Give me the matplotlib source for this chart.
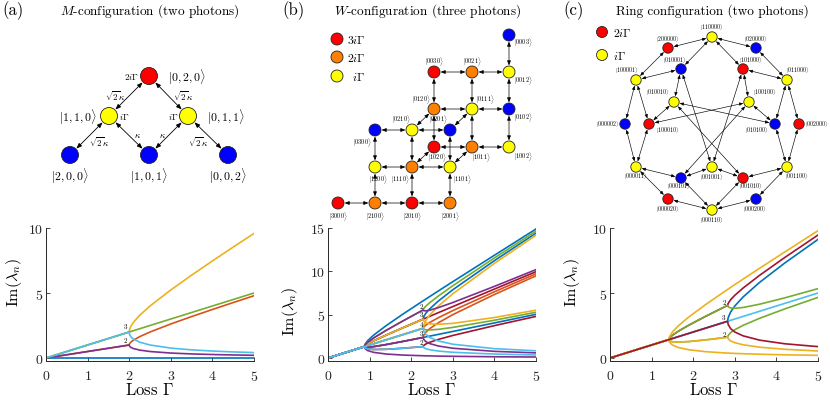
import numpy as np
import matplotlib
matplotlib.use('Agg')
import matplotlib.pyplot as plt
from matplotlib.patches import Circle

plt.rcParams['font.family'] = 'serif'
plt.rcParams['font.serif'] = ['cmr10']
plt.rcParams['mathtext.fontset'] = 'cm'
plt.rcParams['axes.formatter.use_mathtext'] = True

# matlab line colours
blue = '#0072BD'
red = '#D95319'
yellow = '#EDB120'
purple = '#7E2F8E'
green = '#77AC30'
cyan = '#4DBEEE'
darkred = '#A2142F'

# ---------------- data: panel (a) ----------------
gam_a = [0, 2.0, 2.005, 2.02, 2.05, 2.1, 2.25, 2.5, 3.0, 3.5, 4.0, 4.5, 5.0]
a_blue = [0, 0, 0, 0, 0, 0, 0, 0, 0, 0, 0, 0, 0]
a_red = [0, 1.0, 1.073, 1.152, 1.25, 1.37, 1.64, 2.0, 2.618, 3.186, 3.732, 4.266, 4.791]
a_yellow = [0, 2.0, 2.147, 2.304, 2.5, 2.74, 3.281, 4.0, 5.236, 6.372, 7.464, 8.532, 9.582]
a_purple = [0, 1.0, 0.932, 0.868, 0.80, 0.73, 0.61, 0.5, 0.382, 0.314, 0.268, 0.234, 0.209]
a_green = [0, 2.0, 2.005, 2.02, 2.05, 2.1, 2.25, 2.5, 3.0, 3.5, 4.0, 4.5, 5.0]
a_cyan = [0, 2.0, 1.863, 1.736, 1.6, 1.46, 1.219, 1.0, 0.764, 0.628, 0.536, 0.468, 0.418]

# ---------------- data: panel (b) ----------------
gam_b = [0, 0.874, 0.89, 0.95, 1.1, 1.4, 1.8, 2.288, 2.30, 2.35, 2.45, 2.65, 3.0, 4.0, 5.0]
b_p3_0 = [0, 1.311, 1.587, 1.983, 2.652, 3.741, 5.061, 6.603, 6.642, 6.798, 7.107, 7.728, 8.805, 11.856, 14.886]
b_p2_p1 = [0, 1.311, 1.503, 1.797, 2.318, 3.194, 4.274, 5.546, 5.694, 5.975, 6.401, 7.145, 8.340, 11.544, 14.647]
b_p2_m1 = [0, 1.311, 1.503, 1.797, 2.318, 3.194, 4.274, 5.546, 5.462, 5.439, 5.525, 5.809, 6.400, 8.264, 10.201]
b_p1_0 = [0, 1.311, 1.419, 1.611, 1.984, 2.647, 3.487, 4.489, 4.514, 4.616, 4.819, 5.226, 5.935, 7.952, 9.962]
b_p1_p2 = [0, 1.311, 1.419, 1.611, 1.984, 2.647, 3.487, 4.489, 4.746, 5.152, 5.695, 6.562, 7.875, 11.232, 14.408]
b_p1_m2 = [0, 1.311, 1.419, 1.611, 1.984, 2.647, 3.487, 4.489, 4.282, 4.080, 3.943, 3.890, 3.995, 4.672, 5.516]
b_0_p1 = [0, 1.311, 1.335, 1.425, 1.650, 2.100, 2.700, 3.432, 3.566, 3.793, 4.113, 4.643, 5.470, 7.640, 9.723]
b_0_m1 = [0, 1.311, 1.335, 1.425, 1.650, 2.100, 2.700, 3.432, 3.334, 3.257, 3.237, 3.307, 3.530, 4.360, 5.277]
b_0_p3 = [0, 1.311, 1.335, 1.425, 1.650, 2.100, 2.700, 3.432, 3.798, 4.329, 4.989, 5.979, 7.410, 10.920, 14.169]
b_0_m3 = [0, 1.311, 1.335, 1.425, 1.650, 2.100, 2.700, 3.432, 3.102, 2.721, 2.361, 1.971, 1.590, 1.080, 0.831]
b_m1_0 = [0, 1.311, 1.251, 1.239, 1.316, 1.553, 1.913, 2.375, 2.386, 2.434, 2.531, 2.724, 3.065, 4.048, 5.038]
b_m1_p2 = [0, 1.311, 1.251, 1.239, 1.316, 1.553, 1.913, 2.375, 2.618, 2.970, 3.407, 4.060, 5.005, 7.328, 9.484]
b_m1_m2 = [0, 1.311, 1.251, 1.239, 1.316, 1.553, 1.913, 2.375, 2.154, 1.898, 1.655, 1.388, 1.125, 0.768, 0.592]
b_m2_p1 = [0, 1.311, 1.167, 1.053, 0.982, 1.006, 1.126, 1.318, 1.438, 1.611, 1.825, 2.141, 2.600, 3.736, 4.799]
b_m2_m1 = [0, 1.311, 1.167, 1.053, 0.982, 1.006, 1.126, 1.318, 1.206, 1.075, 0.949, 0.805, 0.660, 0.456, 0.353]
b_m3_0 = [0, 1.311, 1.083, 0.867, 0.648, 0.459, 0.339, 0.261, 0.258, 0.252, 0.243, 0.222, 0.195, 0.144, 0.114]

# ---------------- data: panel (c) ----------------
gam_c = [0, 1.414, 1.43, 1.5, 1.65, 1.9, 2.3, 2.828, 2.84, 2.9, 3.0, 3.2, 3.6, 4.2, 5.0]
c_0_0 = [0, 1.414, 1.43, 1.5, 1.65, 1.9, 2.3, 2.828, 2.84, 2.9, 3.0, 3.2, 3.6, 4.2, 5.0]
c_0_p2 = [0, 1.414, 1.43, 1.5, 1.65, 1.9, 2.3, 2.828, 3.096, 3.54, 4.0, 4.696, 5.828, 7.304, 9.124]
c_0_m2 = [0, 1.414, 1.43, 1.5, 1.65, 1.9, 2.3, 2.828, 2.584, 2.26, 2.0, 1.704, 1.372, 1.096, 0.876]
c_p2_0 = [0, 1.414, 1.642, 2.0, 2.5, 3.168, 4.114, 5.278, 5.302, 5.432, 5.646, 6.07, 6.91, 8.154, 9.796]
c_m2_0 = [0, 1.414, 1.218, 1.0, 0.8, 0.632, 0.486, 0.378, 0.378, 0.368, 0.354, 0.33, 0.29, 0.246, 0.204]
c_p1_p1 = [0, 1.414, 1.536, 1.75, 2.075, 2.534, 3.207, 4.053, 4.199, 4.486, 4.823, 5.383, 6.369, 7.729, 9.46]
c_p1_m1 = [0, 1.414, 1.536, 1.75, 2.075, 2.534, 3.207, 4.053, 3.943, 3.846, 3.823, 3.887, 4.141, 4.625, 5.336]
c_m1_p1 = [0, 1.414, 1.324, 1.25, 1.225, 1.266, 1.393, 1.603, 1.737, 1.954, 2.177, 2.513, 3.059, 3.775, 4.664]
c_m1_m1 = [0, 1.414, 1.324, 1.25, 1.225, 1.266, 1.393, 1.603, 1.481, 1.314, 1.177, 1.017, 0.831, 0.671, 0.540]

# ---------------- diagram states ----------------
lossy_a = [1]
lossy_b = [0, 2]
lossy_c = [0, 2, 4]

pos_a = {'020': (149, 77), '110': (109, 117), '011': (188, 117),
         '200': (70, 156), '101': (149, 156), '002': (228, 156)}
lab_a = {'020': (168, 77, 'left'), '110': (97, 117, 'right'), '011': (207, 117, 'left'),
         '200': (70, 176, 'center'), '101': (149, 176, 'center'), '002': (228, 176, 'center')}
loss_txt_a = [(139, 77, 'right', r'$2i\Gamma$'), (119, 117, 'left', r'$i\Gamma$'),
              (178, 117, 'right', r'$i\Gamma$')]
coup_txt_a = [(115, 96, r'$\sqrt{2}\kappa$'), (183, 96, r'$\sqrt{2}\kappa$'),
              (99, 142, r'$\sqrt{2}\kappa$'), (198, 142, r'$\sqrt{2}\kappa$'),
              (137, 136, r'$\kappa$'), (162, 136, r'$\kappa$')]

pos_b = {'0003': (509, 36),
         '0030': (434, 73), '0021': (472, 73), '0012': (509, 73),
         '0120': (434, 110), '0111': (472, 110), '0102': (509, 110),
         '0300': (375, 131), '0210': (412, 131), '0201': (450, 131),
         '1020': (434, 148), '1011': (472, 148), '1002': (509, 148),
         '1200': (375, 168), '1110': (412, 168), '1101': (450, 168),
         '3000': (338, 204), '2100': (375, 204), '2010': (412, 204), '2001': (450, 204)}
lab_b = {'0003': (514, 43, 'left'),
         '0030': (434, 62, 'center'), '0021': (472, 62, 'center'), '0012': (514, 81, 'left'),
         '0120': (431, 100, 'right'), '0111': (476, 100, 'left'), '0102': (514, 118, 'left'),
         '0300': (372, 143, 'right'), '0210': (411, 120, 'right'), '0201': (448, 120, 'right'),
         '1020': (437, 158, 'center'), '1011': (472, 158, 'left'), '1002': (514, 157, 'left'),
         '1200': (369, 180, 'left'), '1110': (410, 180, 'right'), '1101': (453, 180, 'left'),
         '3000': (338, 217, 'center'), '2100': (375, 217, 'center'),
         '2010': (412, 217, 'center'), '2001': (450, 217, 'center')}

pos_c = {'110000': (712, 38), '200000': (668, 49), '020000': (756, 49),
         '010001': (681, 70), '101000': (743, 70), '100001': (636, 81), '011000': (787, 81),
         '010010': (674, 103), '100100': (749, 103),
         '000002': (625, 125), '100010': (649, 125), '010100': (775, 125), '002000': (799, 125),
         '000011': (636, 168), '001001': (712, 168), '001100': (787, 168),
         '000101': (681, 179), '001010': (743, 179),
         '000020': (668, 200), '000200': (756, 200), '000110': (712, 211)}
lab_c = {'110000': (712, 28, 'center'), '200000': (668, 40, 'center'), '020000': (756, 40, 'center'),
         '010001': (675, 61, 'center'), '101000': (751, 61, 'center'),
         '100001': (627, 71, 'center'), '011000': (798, 71, 'center'),
         '010010': (658, 93, 'center'), '100100': (765, 93, 'center'),
         '000002': (619, 125, 'right'), '100010': (656, 131, 'left'),
         '010100': (768, 131, 'right'), '002000': (805, 125, 'left'),
         '000011': (636, 177, 'center'), '001001': (712, 178, 'center'), '001100': (797, 177, 'center'),
         '000101': (679, 187, 'center'), '001010': (751, 187, 'center'),
         '000020': (668, 210, 'center'), '000200': (755, 210, 'center'), '000110': (712, 221, 'center')}

cols_a = {0: '#0000FF', 1: '#FFFF00', 2: '#FF0000'}
cols_b = {0: '#0000FF', 1: '#FFFF00', 2: '#FF8000', 3: '#FF0000'}


def hops(states, ring):
    n = len(next(iter(states)))
    pairs = set()
    for s in states:
        occ = [int(ch) for ch in s]
        for i in range(n):
            if occ[i] == 0:
                continue
            nbrs = [i - 1, i + 1]
            for j in nbrs:
                if ring:
                    j = j % n
                elif j < 0 or j >= n:
                    continue
                new = occ[:]
                new[i] -= 1
                new[j] += 1
                t = ''.join(str(v) for v in new)
                if t in states:
                    pairs.add(tuple(sorted((s, t))))
    return sorted(pairs)


def draw_graph(ax, pos, r, lossy, cols, ring, head=6, lw=0.5):
    for s, t in hops(pos, ring):
        shrink = (r + 0.6) * 0.72
        ax.annotate('', xy=pos[t], xytext=pos[s],
                    arrowprops=dict(arrowstyle='<|-|>,head_length=0.45,head_width=0.18',
                                    mutation_scale=head, lw=lw, color='k',
                                    shrinkA=shrink, shrinkB=shrink), zorder=2)
    for s, (x, y) in pos.items():
        loss = sum(int(s[i]) for i in lossy)
        ax.add_patch(Circle((x, y), r, facecolor=cols[loss], edgecolor='#222222',
                            lw=0.6, zorder=3))


fig = plt.figure(figsize=(8.3, 4.02), dpi=100)
axd = fig.add_axes([0, 0, 1, 1])
axd.set_xlim(0, 830)
axd.set_ylim(402, 0)
axd.axis('off')

# titles
axd.text(2, 11, '(a)', fontsize=12, ha='left', va='center')
axd.text(150, 11, r'$M$-configuration (two photons)', fontsize=9.5, ha='center', va='center')
axd.text(282, 11, '(b)', fontsize=12, ha='left', va='center')
axd.text(428, 11, r'$W$-configuration (three photons)', fontsize=9.5, ha='center', va='center')
axd.text(563, 11, '(c)', fontsize=12, ha='left', va='center')
axd.text(712, 11, 'Ring configuration (two photons)', fontsize=9.5, ha='center', va='center')

# (a) diagram
draw_graph(axd, pos_a, 8.5, lossy_a, cols_a, False, head=7, lw=0.6)
for s, (x, y, ha) in lab_a.items():
    axd.text(x, y, r'$|%s,%s,%s\rangle$' % tuple(s), fontsize=8.5, ha=ha, va='center')
for x, y, ha, t in loss_txt_a:
    axd.text(x, y, t, fontsize=6.5, ha=ha, va='center')
for x, y, t in coup_txt_a:
    axd.text(x, y, t, fontsize=6.5, ha='center', va='center')

# (b) diagram
draw_graph(axd, pos_b, 6, lossy_b, cols_b, False)
for s, (x, y, ha) in lab_b.items():
    axd.text(x, y, r'$|%s\rangle$' % s, fontsize=4.5, ha=ha, va='center')
for y, lv, t, dx in [(40, 3, r'$3i\Gamma$', 0), (58, 2, r'$2i\Gamma$', 0), (77, 1, r'$i\Gamma$', 5)]:
    axd.add_patch(Circle((337, y), 6, facecolor=cols_b[lv], edgecolor='#222222', lw=0.6))
    axd.text(347 + dx, y, t, fontsize=8.5, ha='left', va='center')

# (c) diagram
draw_graph(axd, pos_c, 5.2, lossy_c, cols_a, True, head=5, lw=0.45)
for s, (x, y, ha) in lab_c.items():
    axd.text(x, y, r'$|%s\rangle$' % s, fontsize=4.2, ha=ha, va='center')
for y, lv, t in [(33, 2, r'$2i\Gamma$'), (56, 1, r'$i\Gamma$')]:
    axd.add_patch(Circle((602, y), 5.5, facecolor=cols_a[lv], edgecolor='#222222', lw=0.6))
    axd.text(613, y, t, fontsize=8.5, ha='left', va='center')


def setup(ax, top, ticks, ylab_y, ylab_x):
    ax.set_xlim(0, 5)
    ax.set_ylim(-0.023 * top, top)
    ax.set_xticks([0, 1, 2, 3, 4, 5])
    ax.set_yticks(ticks)
    for sp in ['top', 'right']:
        ax.spines[sp].set_visible(False)
    for sp in ['left', 'bottom']:
        ax.spines[sp].set_color('#262626')
        ax.spines[sp].set_linewidth(0.7)
    ax.tick_params(direction='in', length=3, width=0.6, labelsize=10, colors='#262626')
    ax.tick_params(axis='x', pad=6)
    ax.tick_params(axis='y', pad=2)
    ax.set_xlabel(r'Loss $\Gamma$', fontsize=12)
    ax.set_ylabel(r'$\mathrm{Im}(\lambda_n)$', fontsize=11.5)
    ax.xaxis.set_label_coords(0.5, -0.15)
    ax.yaxis.set_label_coords(ylab_x, ylab_y)


bot = 1 - 362 / 402
hgt = (362 - 229) / 402
wid = 208 / 830
lw = 1.2

ax1 = fig.add_axes([46 / 830, bot, wid, hgt])
for ys, c in [(a_blue, blue), (a_red, red), (a_yellow, yellow), (a_purple, purple),
              (a_green, green), (a_cyan, cyan)]:
    ax1.plot(gam_a, ys, color=c, lw=lw)
ax1.text(1.95, 2.2, '3', fontsize=5, ha='right', va='bottom')
ax1.text(1.95, 1.15, '2', fontsize=5, ha='right', va='bottom')
setup(ax1, 10, [0, 5, 10], 0.6, -0.105)

ax2 = fig.add_axes([328 / 830, bot, wid, hgt])
curves_b = [(b_p3_0, blue), (b_p1_p2, blue), (b_m1_0, blue),
            (b_0_p1, red), (b_m1_p2, red),
            (b_p1_0, darkred), (b_m2_p1, darkred),
            (b_p2_p1, green), (b_0_m1, green),
            (b_p1_m2, yellow), (b_0_p3, yellow),
            (b_p2_m1, purple), (b_m1_m2, purple), (b_m3_0, purple),
            (b_0_m3, cyan), (b_m2_m1, cyan)]
for ys, c in curves_b:
    ax2.plot(gam_b, ys, color=c, lw=lw)
for y, t in [(5.7, '2'), (4.75, '3'), (3.55, '4'), (2.5, '3'), (1.45, '2')]:
    ax2.text(2.25, y, t, fontsize=5, ha='center', va='bottom')
setup(ax2, 15, [0, 5, 10, 15], 0.38, -0.135)

ax3 = fig.add_axes([610 / 830, bot, wid, hgt])
curves_c = [(c_0_p2, blue), (c_0_0, cyan), (c_p1_p1, darkred), (c_p1_m1, green),
            (c_m1_p1, green), (c_m1_m1, yellow), (c_p2_0, yellow), (c_m2_0, yellow),
            (c_0_m2, darkred)]
for ys, c in curves_c:
    ax3.plot(gam_c, ys, color=c, lw=lw)
for y, t in [(4.1, '2'), (2.9, '3'), (1.65, '2')]:
    ax3.text(2.78, y, t, fontsize=5, ha='right', va='bottom')
setup(ax3, 10, [0, 5, 10], 0.6, -0.135)

fig.savefig('out.png', dpi=100)
